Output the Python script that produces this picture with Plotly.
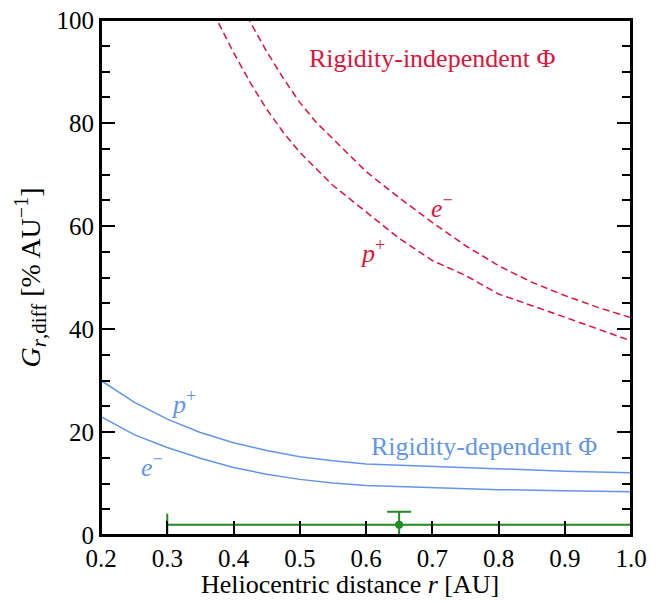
import plotly.graph_objects as go

# rigidity-independent Phi (dashed)
r_ind_p = [0.37, 0.40, 0.425, 0.45, 0.475, 0.50, 0.55, 0.60, 0.65, 0.70, 0.75, 0.80, 0.85, 0.90, 0.95, 1.00]
g_ind_p = [101.3, 93.7, 87.9, 82.7, 78.2, 74.3, 67.9, 62.7, 57.6, 53.3, 50.4, 46.8, 44.6, 42.3, 40.0, 37.7]
r_ind_e = [0.42, 0.45, 0.475, 0.50, 0.525, 0.55, 0.575, 0.60, 0.625, 0.65, 0.70, 0.75, 0.80, 0.85, 0.90, 0.95, 1.00]
g_ind_e = [100.8, 93.9, 88.7, 84.0, 80.1, 76.9, 73.7, 70.6, 68.0, 65.5, 60.7, 56.2, 52.3, 49.1, 46.5, 44.2, 42.2]

# rigidity-dependent Phi (solid)
r_dep = [0.2, 0.25, 0.3, 0.35, 0.4, 0.45, 0.5, 0.55, 0.6, 0.7, 0.8, 0.9, 1.0]
g_dep_p = [30.0, 25.8, 22.5, 19.9, 17.9, 16.4, 15.2, 14.4, 13.8, 13.3, 12.8, 12.4, 12.1]
g_dep_e = [23.0, 19.5, 17.0, 14.9, 13.1, 11.8, 10.8, 10.1, 9.6, 9.2, 8.8, 8.6, 8.4]

# measurement
obs_r = [0.65]
obs_g = [2.0]
obs_r_err = [0.35]
obs_g_up = [2.5]
obs_g_down = [2.0]

RED = "#DC143C"
BLUE = "#6495ED"
GREEN = "#228B22"
FONT = "Liberation Serif"

fig = go.Figure()
fig.add_trace(go.Scatter(x=r_ind_p, y=g_ind_p, mode="lines",
                         line=dict(color=RED, width=1.5, dash="7px,4px")))
fig.add_trace(go.Scatter(x=r_ind_e, y=g_ind_e, mode="lines",
                         line=dict(color=RED, width=1.5, dash="7px,4px")))
fig.add_trace(go.Scatter(x=r_dep, y=g_dep_p, mode="lines",
                         line=dict(color=BLUE, width=1.5)))
fig.add_trace(go.Scatter(x=r_dep, y=g_dep_e, mode="lines",
                         line=dict(color=BLUE, width=1.5)))
fig.add_trace(go.Scatter(
    x=obs_r, y=obs_g, mode="markers",
    marker=dict(color=GREEN, size=8),
    error_x=dict(type="data", array=obs_r_err, color=GREEN, thickness=2, width=11),
    error_y=dict(type="data", symmetric=False, array=obs_g_up, arrayminus=obs_g_down,
                 color=GREEN, thickness=2, width=12),
    cliponaxis=False,
))

labels = [
    (0.70, 92.6, "Rigidity-independent Φ", RED),
    (0.714, 63.8, "<i>e</i><sup>−</sup>", RED),
    (0.61, 55.1, "<i>p</i><sup>+</sup>", RED),
    (0.778, 17.1, "Rigidity-dependent Φ", BLUE),
    (0.325, 25.7, "<i>p</i><sup>+</sup>", BLUE),
    (0.277, 13.5, "<i>e</i><sup>−</sup>", BLUE),
]
for x, y, txt, col in labels:
    fig.add_annotation(x=x, y=y, text=txt, showarrow=False,
                       font=dict(family=FONT, size=26, color=col))

# x label sits a little left of the axes centre in the original
fig.add_annotation(x=0.47, y=0, xref="paper", yref="paper", yshift=-66,
                   text="Heliocentric distance <i>r</i> [AU]", showarrow=False,
                   xanchor="center", yanchor="bottom",
                   font=dict(family=FONT, size=26, color="black"))

# frame round the axes
fig.add_shape(type="rect", xref="paper", yref="paper", x0=0, y0=0, x1=1, y1=1,
              line=dict(color="black", width=2), layer="above")

fig.update_layout(
    width=664, height=603,
    margin=dict(l=101, r=33, t=20, b=68),
    paper_bgcolor="white", plot_bgcolor="white",
    showlegend=False,
    font=dict(family=FONT, size=24, color="black"),
)
fig.update_xaxes(
    range=[0.2, 1.0], dtick=0.1, tickformat=".1f",
    tickfont=dict(family=FONT, size=25, color="black"),
    ticks="inside", ticklen=14, tickwidth=2, tickcolor="black",
    showline=True, linewidth=2, linecolor="black", mirror=True,
    showgrid=False, zeroline=False, automargin=False,
)
fig.update_yaxes(
    range=[0, 100], dtick=20,
    tickfont=dict(family=FONT, size=25, color="black"),
    ticks="inside", ticklen=14, tickwidth=2, tickcolor="black",
    minor=dict(dtick=5, ticks="inside", ticklen=9, tickwidth=2, tickcolor="black"),
    showline=True, linewidth=2, linecolor="black", mirror="allticks",
    showgrid=False, zeroline=False, automargin=False,
    title=dict(text="<i>G</i><sub><span style='font-size:21px'><i>r</i>,diff</span></sub>"
                    " [%&#8201;AU<sup><span style='font-size:20px'>−1</span></sup>]",
               standoff=8, font=dict(family=FONT, size=28, color="black")),
)

# drop the default 8px body margin so the figure fills the window exactly
fig.write_html("out.html", config={"displayModeBar": False},
               post_script="document.body.style.margin='0';")
